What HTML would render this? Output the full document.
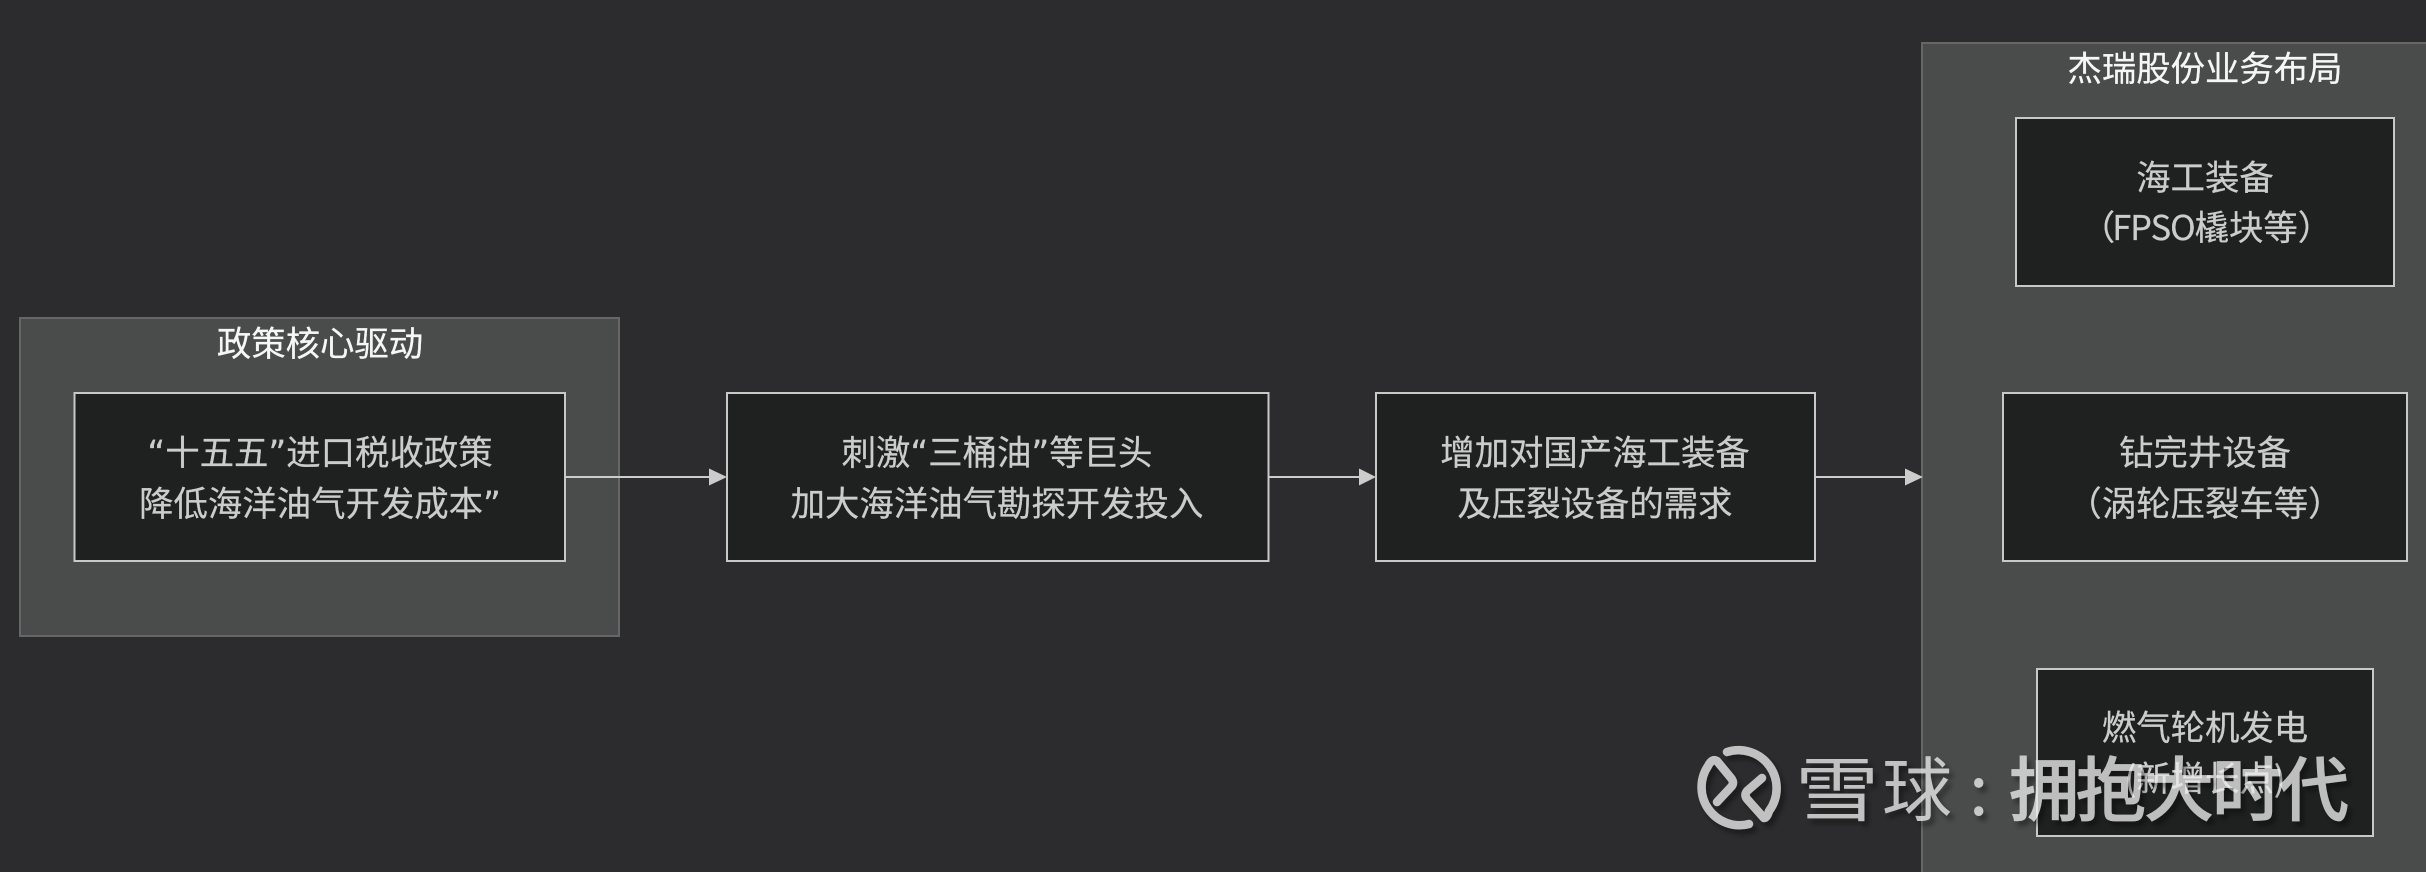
<!DOCTYPE html>
<html lang="zh"><head><meta charset="utf-8"><title>Diagram</title>
<style>
html,body{margin:0;padding:0;background:#2c2c2e;width:2426px;height:872px;overflow:hidden}
svg{display:block}
text{font-family:"Liberation Sans","Noto Sans CJK SC",sans-serif}
.n{font-family:"Noto Sans CJK SC",sans-serif;font-size:34.4px;fill:#ccc;stroke:#ccc;stroke-width:.25px;text-anchor:middle}
.t{font-family:"Noto Sans CJK SC",sans-serif;font-size:34.4px;fill:#f6f6f6;stroke:#f6f6f6;stroke-width:.25px;text-anchor:middle}
.q{font-family:"DejaVu Sans",sans-serif}
.w{font-family:"Noto Sans CJK SC",sans-serif;font-size:70px;font-weight:500;fill:#ebebeb;stroke:#ebebeb;stroke-width:.8px}
.l{font-family:"Noto Sans CJK SC",sans-serif;font-size:70px;font-weight:400;fill:#ebebeb}
</style></head><body>
<svg width="2426" height="872" viewBox="0 0 2426 872" xmlns="http://www.w3.org/2000/svg">
<defs>
<filter id="s" x="-10%" y="-20%" width="120%" height="150%">
<feDropShadow dx="4" dy="5" stdDeviation="2.5" flood-color="#000" flood-opacity=".45"/>
</filter>
</defs>
<rect width="2426" height="872" fill="#2c2c2e"/>
<rect x="20" y="318" width="599" height="318" fill="#4a4b4b" stroke="#666" stroke-width="2"/>
<rect x="1922" y="43" width="520" height="850" fill="#4a4b4b" stroke="#666" stroke-width="2"/>
<text class="t" x="320" y="356">政策核心驱动</text>
<text class="t" x="2205" y="81">杰瑞股份业务布局</text>

<g fill="#1f2120" stroke="#c8c8c8" stroke-width="2">
<rect x="74.500" y="393" width="490.500" height="168"/>
<rect x="727" y="393" width="541.500" height="168"/>
<rect x="1376" y="393" width="439" height="168"/>
<rect x="2016" y="118" width="378" height="168"/>
<rect x="2003" y="393" width="404" height="168"/>
<rect x="2037" y="669" width="336" height="167"/>
</g>

<g stroke="#ccc" stroke-width="2" fill="none">
<path d="M565 477H712"/><path d="M1268 477H1362"/><path d="M1815 477H1909"/>
</g>
<g fill="#ccc">
<path d="M709 468.500L727 477L709 485.500Z"/>
<path d="M1359 468.500L1376 477L1359 485.500Z"/>
<path d="M1905 468.500L1923 477L1905 485.500Z"/>
</g>

<text class="n" x="320" y="465"><tspan class="q">“</tspan>十五五<tspan class="q">”</tspan>进口税收政策</text>
<text class="n" x="320" y="516">降低海洋油气开发成本<tspan class="q">”</tspan></text>
<text class="n" x="997" y="465">刺激<tspan class="q">“</tspan>三桶油<tspan class="q">”</tspan>等巨头</text>
<text class="n" x="997" y="516">加大海洋油气勘探开发投入</text>
<text class="n" x="1595" y="465">增加对国产海工装备</text>
<text class="n" x="1595" y="516">及压裂设备的需求</text>
<text class="n" x="2205" y="190">海工装备</text>
<text class="n" x="2205" y="240"><tspan style="letter-spacing:-3px">（</tspan><tspan style="letter-spacing:-1px">FPSO</tspan>橇块等<tspan style="letter-spacing:-3px">）</tspan></text>
<text class="n" x="2205" y="465">钻完井设备</text>
<text class="n" x="2205" y="516">（涡轮压裂车等）</text>
<text class="n" x="2205" y="740">燃气轮机发电</text>
<text class="n" x="2205" y="791">(新增长点)</text>

<g opacity=".78" filter="url(#s)">
<g fill="none" stroke="#ebebeb" stroke-width="8.500" stroke-linecap="round" stroke-linejoin="round">
<path d="M1727 752A38 38 0 0 1 1769 811Q1767 818 1764 818L1747 799Q1744 795 1747 791L1762 778"/>
<path d="M1749 824A38 38 0 0 1 1708 766Q1712 758 1717 761L1731 778Q1735 783 1731 787L1717 802"/>
</g>
<text class="l" transform="translate(1795 815) scale(1.2 1)" x="0" y="0">雪</text>
<text class="l" transform="translate(1882 815)" x="0" y="0">球</text>
<text class="l" x="1969" y="815">:</text>
<text class="w" x="2009" y="815">拥</text>
<text class="w" x="2076" y="815">抱</text>
<text class="w" x="2144" y="815">大</text>
<text class="w" x="2212" y="815">时</text>
<text class="w" x="2279" y="815">代</text>
</g>
</svg>
</body></html>
